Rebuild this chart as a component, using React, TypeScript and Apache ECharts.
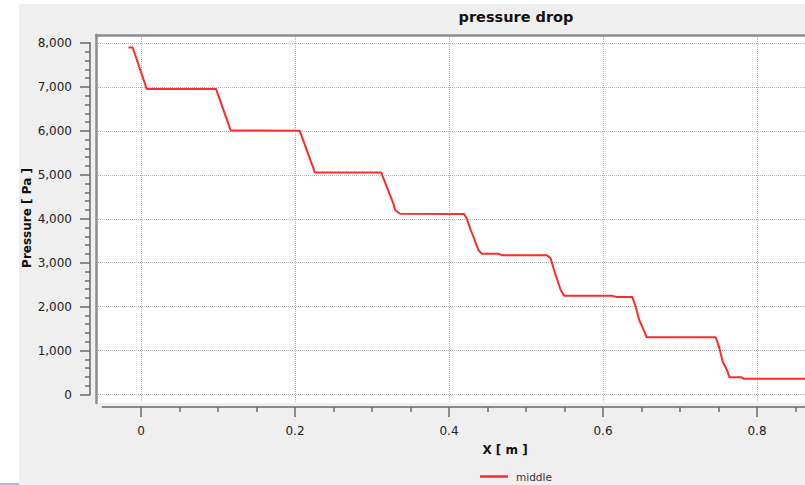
import React, { useEffect, useRef } from "react";
import * as echarts from "echarts";

// Position along the channel [m]
const positions = [
  -0.0164, -0.0108, 0.0074, 0.0974, 0.1165, 0.206, 0.226, 0.312, 0.32, 0.3277,
  0.33, 0.3364, 0.4195, 0.4229, 0.4282, 0.4325, 0.4381, 0.4425, 0.464, 0.4685,
  0.5268, 0.532, 0.5364, 0.5407, 0.545, 0.5494, 0.611, 0.618, 0.638, 0.6425,
  0.647, 0.652, 0.6567, 0.7464, 0.7512, 0.7555, 0.76, 0.7644, 0.78, 0.7825, 0.87,
];
// Pressure [Pa]
const pressures = [
  7898, 7898, 6955, 6955, 6010, 6005, 5050, 5050, 4690, 4350,
  4200, 4115, 4110, 4010, 3744, 3555, 3289, 3205, 3205, 3172,
  3172, 3100, 2833, 2606, 2378, 2250, 2250, 2220, 2220, 1998,
  1695, 1506, 1302, 1302, 1051, 746, 596, 391, 391, 360, 360,
];

const legendName = "middle";
const chartTitle = "pressure drop";
const xAxisTitle = "X [ m ]";
const yAxisTitle = "Pressure [ Pa ]";

// tick axis ranges
const X_MIN = 0;
const X_MAX = 1.0;
const X_STEP = 0.2;
const Y_MIN = 0;
const Y_MAX = 8000;
const Y_STEP = 1000;
// visible x window of the plot area (left edge of the frame to the right edge of the picture)
const X_VIEW_MIN = -0.058442;
const X_VIEW_MAX = 0.862338;

export default function App() {
  const ref = useRef<HTMLDivElement>(null);

  useEffect(() => {
    const chart = echarts.init(ref.current!, null, { renderer: "svg" });
    const font = "DejaVu Sans";
    const gridColor = "#b4b4b4";
    const axisGray = "#8a8a8a";
    const tickGray = "#6a6a6a";
    const frameGray = "#8c8c8c";
    const lineColor = "#ff2a2a";

    const noAxisParts = {
      axisLine: { show: false, onZero: false },
      axisTick: { show: false },
      axisLabel: { show: false },
      splitLine: { show: false },
    };
    const gridBase = { outerBoundsMode: "none", containLabel: false };

    const option: any = {
      animation: false,
      backgroundColor: "#efefef",
      textStyle: { fontFamily: font },
      grid: [
        // 0: tick axes
        { ...gridBase, left: 141, width: 770, top: 43, height: 351.5 },
        // 1: horizontal grid lines
        { ...gridBase, left: 96, width: 709, top: 43, height: 351.5 },
        // 2: vertical grid lines
        { ...gridBase, left: 141, width: 770, top: 35, height: 368 },
        // 3: x axis line
        { ...gridBase, left: 102.5, width: 808.5, top: 43, height: 364 },
        // 4: plot background + frame
        {
          ...gridBase,
          left: 96,
          width: 709,
          top: 35,
          height: 368,
          show: true,
          backgroundColor: "#ffffff",
          borderWidth: 0,
          z: -1,
        },
        // 5: data
        { ...gridBase, left: 96, width: 709, top: 43, height: 351.5 },
      ],
      xAxis: [
        {
          gridIndex: 0,
          type: "value",
          min: X_MIN,
          max: X_MAX,
          interval: X_STEP,
          offset: 12.5,
          axisLine: { show: false, onZero: false },
          axisTick: { show: true, length: 10, lineStyle: { color: tickGray, width: 1.5 } },
          minorTick: { show: true, splitNumber: 4, length: 5, lineStyle: { color: tickGray, width: 1.5 } },
          axisLabel: {
            show: true,
            margin: 18,
            color: "#222",
            fontSize: 12,
            fontFamily: font,
            showMaxLabel: false,
          },
          splitLine: { show: false },
        },
        { gridIndex: 1, type: "value", min: 0, max: 1, show: false, ...noAxisParts },
        {
          gridIndex: 2,
          type: "value",
          min: X_MIN,
          max: X_MAX,
          interval: X_STEP,
          ...noAxisParts,
          splitLine: { show: true, lineStyle: { color: gridColor, type: "dotted", width: 1 } },
        },
        {
          gridIndex: 3,
          type: "value",
          min: -0.05,
          max: X_MAX,
          ...noAxisParts,
          axisLine: { show: true, onZero: false, lineStyle: { color: axisGray, width: 2 } },
        },
        {
          gridIndex: 4,
          type: "value",
          position: "top",
          min: 0,
          max: 1,
          ...noAxisParts,
          axisLine: { show: true, onZero: false, lineStyle: { color: frameGray, width: 2.5 } },
        },
        {
          gridIndex: 5,
          type: "value",
          min: X_VIEW_MIN,
          max: X_VIEW_MAX,
          show: false,
          ...noAxisParts,
        },
      ],
      yAxis: [
        {
          gridIndex: 0,
          type: "value",
          min: Y_MIN,
          max: Y_MAX,
          interval: Y_STEP,
          offset: 51,
          axisLine: { show: true, onZero: false, lineStyle: { color: axisGray, width: 2 } },
          axisTick: { show: true, length: 10, lineStyle: { color: tickGray, width: 1.5 } },
          minorTick: { show: true, splitNumber: 5, length: 5, lineStyle: { color: tickGray, width: 1.5 } },
          axisLabel: {
            show: true,
            margin: 18,
            color: "#222",
            fontSize: 12,
            fontFamily: font,
            formatter: (v: number) => v.toLocaleString("en-US"),
          },
          splitLine: { show: false },
        },
        {
          gridIndex: 1,
          type: "value",
          min: Y_MIN,
          max: Y_MAX,
          interval: Y_STEP,
          ...noAxisParts,
          splitLine: { show: true, lineStyle: { color: gridColor, type: "dotted", width: 1 } },
        },
        { gridIndex: 2, type: "value", min: 0, max: 1, show: false, ...noAxisParts },
        { gridIndex: 3, type: "value", min: 0, max: 1, show: false, ...noAxisParts },
        {
          gridIndex: 4,
          type: "value",
          min: 0,
          max: 1,
          ...noAxisParts,
          axisLine: { show: true, onZero: false, lineStyle: { color: frameGray, width: 2.5 } },
        },
        { gridIndex: 5, type: "value", min: Y_MIN, max: Y_MAX, show: false, ...noAxisParts },
      ],
      legend: {
        data: [legendName],
        left: 480,
        top: 471,
        padding: 0,
        icon: "rect",
        itemWidth: 28,
        itemHeight: 2.5,
        itemGap: 10,
        textStyle: { fontSize: 10.5, color: "#333", fontFamily: font, padding: [0, 0, 0, 3] },
      },
      series: [
        {
          type: "line",
          name: legendName,
          xAxisIndex: 5,
          yAxisIndex: 5,
          data: positions.map((x, i) => [x, pressures[i]]),
          showSymbol: false,
          symbol: "none",
          color: lineColor,
          lineStyle: { color: lineColor, width: 2 },
          itemStyle: { color: lineColor },
          z: 5,
        },
      ],
      graphic: [
        { type: "rect", silent: true, shape: { x: 0, y: 0, width: 19, height: 485 }, style: { fill: "#ffffff" } },
        { type: "rect", silent: true, shape: { x: 0, y: 0, width: 805, height: 4 }, style: { fill: "#ffffff" } },
        { type: "rect", silent: true, shape: { x: 0, y: 483, width: 19, height: 2 }, style: { fill: "#a6bdee" } },
        {
          type: "text",
          x: 516,
          y: 17,
          silent: true,
          style: {
            text: chartTitle,
            font: `bold 14.5px "${font}"`,
            fill: "#111",
            align: "center",
            verticalAlign: "middle",
            textAlign: "center",
            textVerticalAlign: "middle",
          },
        },
        {
          type: "text",
          x: 505,
          y: 450,
          silent: true,
          style: {
            text: xAxisTitle,
            font: `bold 12px "${font}"`,
            fill: "#111",
            align: "center",
            verticalAlign: "middle",
            textAlign: "center",
            textVerticalAlign: "middle",
          },
        },
        {
          type: "text",
          x: 27,
          y: 218,
          rotation: Math.PI / 2,
          silent: true,
          style: {
            text: yAxisTitle,
            font: `bold 12px "${font}"`,
            fill: "#111",
            align: "center",
            verticalAlign: "middle",
            textAlign: "center",
            textVerticalAlign: "middle",
          },
        },
      ],
    };

    chart.setOption(option);
    return () => chart.dispose();
  }, []);

  return (
    <div
      ref={ref}
      style={{ position: "fixed", left: 0, top: 0, width: 805, height: 485 }}
    />
  );
}
